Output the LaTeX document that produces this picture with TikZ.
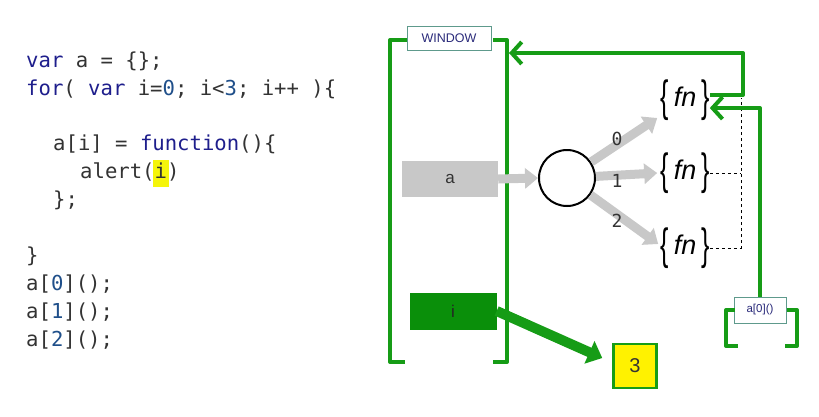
\documentclass[tikz,border=0pt]{standalone}
\usepackage{fontspec}
\usepackage{graphicx}
\setmainfont{Liberation Sans}
\newfontfamily\codefont{DejaVu Sans Mono}
\usetikzlibrary{arrows.meta}
\definecolor{grn}{HTML}{169C16}
\definecolor{boxgreen}{HTML}{0A8F0A}
\definecolor{lgray}{HTML}{C8C8C8}
\definecolor{kw}{HTML}{1E1E8C}
\definecolor{num}{HTML}{1F4F8A}
\definecolor{txt}{HTML}{333333}
\definecolor{navy}{HTML}{2A2A7A}
\definecolor{teal}{HTML}{5E9A8C}
\definecolor{hl}{HTML}{F5F50A}
\newcommand{\kwd}[1]{\textcolor{kw}{#1}}
\newcommand{\nm}[1]{\textcolor{num}{#1}}
\newcommand{\tallbrace}[1]{\raisebox{-5pt}{\scalebox{1.0}[1.75]{\fontsize{25}{30}\selectfont#1}}}
\newcommand{\fnnode}{\tallbrace{\{}\hspace{5pt}{\fontsize{27}{30}\selectfont\textit{fn}}\hspace{5pt}\tallbrace{\}}}
\tikzset{
  codeline/.style={anchor=base west, inner sep=0pt, text=txt, font=\codefont\fontsize{20.6}{26}\selectfont},
  idxlabel/.style={inner sep=0pt, text=txt, font=\codefont\fontsize{18}{20}\selectfont},
  grnline/.style={draw=grn, line width=4pt, line join=round},
  barbtip/.style={-{Straight Barb[length=10pt,width=22pt]}},
  grayarrow/.style={draw=lgray, line width=9pt, -{Triangle[width=20pt,length=13pt]}},
  grnthick/.style={draw=grn, line width=10pt, -{Triangle[width=24pt,length=14pt]}},
  labelbox/.style={draw=teal, fill=white, line width=1pt, text=navy, inner sep=0pt},
  graybox/.style={fill=lgray, minimum width=96pt, minimum height=36pt, inner sep=0pt, text=txt, font=\fontsize{17}{18}\selectfont},
  greenbox/.style={fill=boxgreen, minimum width=87pt, minimum height=37pt, inner sep=0pt, text=txt!70!black, font=\fontsize{17}{18}\selectfont},
  valbox/.style={fill=yellow, draw=grn, line width=2.5pt, minimum width=43pt, minimum height=44pt, inner sep=0pt, text=txt, font=\fontsize{20}{22}\selectfont},
  fnbox/.style={inner sep=0pt, text=black},
  dashline/.style={draw=black, dashed, line width=1pt}
}
\begin{document}
\begin{tikzpicture}[x=1pt,y=-1pt]
\useasboundingbox (0,0) rectangle (819,416);
\fill[white] (0,0) rectangle (819,416);

% code
\setlength{\fboxsep}{2pt}
\node[codeline] (c1) at (26,67) {\kwd{var} a = \{\};};
\node[codeline] (c2) at (26,95) {\kwd{for}( \kwd{var} i=\nm{0}; i<\nm{3}; i++ )\{};
\node[codeline] (c3) at (53,150) {a[i] = \kwd{function}()\{};
\node[codeline] (c4) at (80,178) {alert(\hspace{-2pt}\colorbox{hl}{\rule[-7pt]{0pt}{23pt}i}\hspace{-2pt})};
\node[codeline] (c5) at (53,206) {\};};
\node[codeline] (c6) at (26,262) {\}};
\node[codeline] (c7) at (26,290) {a[\nm{0}]();};
\node[codeline] (c8) at (26,318) {a[\nm{1}]();};
\node[codeline] (c9) at (26,346) {a[\nm{2}]();};

% window
\draw[grnline] (407,40) -- (390,40) -- (390,362) -- (405,362);
\draw[grnline] (493,40) -- (507,40) -- (507,362) -- (493,362);
\node[labelbox, minimum width=84pt, minimum height=24pt, font=\fontsize{12.5}{14}\selectfont] (win) at (449,38) {WINDOW};

\node[graybox] (a) at (450,179) {a};
\node[greenbox] (i) at (453,311) {i};

\node[circle, draw=black, line width=2pt, minimum size=56pt, inner sep=0pt] (obj) at (567,178) {};
\draw[grayarrow] (a.east) -- (obj.west);

\node[fnbox] (f0) at (685,100) {\fnnode};
\node[fnbox] (f1) at (685,173) {\fnnode};
\node[fnbox] (f2) at (685,248) {\fnnode};

\draw[grayarrow] (obj) -- ([yshift=-18pt,xshift=-3pt]f0.west);
\draw[grayarrow] (obj) -- ([xshift=-3pt]f1.west);
\draw[grayarrow] (obj) -- ([yshift=4pt,xshift=-2pt]f2.west);
\node[idxlabel] (n0) at (617,139) {0};
\node[idxlabel] (n1) at (617,181) {1};
\node[idxlabel] (n2) at (617,221) {2};

% dashed links
\coordinate (dj) at (741,98);
\draw[dashline] (f2.east) -- (f2.east -| dj) -- (dj);
\draw[dashline] (f1.east) -- (f1.east -| dj);

% scope arrow to window
\coordinate (t1) at (743,53);
\coordinate (wr) at (509,53);
\draw[grnline, barbtip] ([yshift=5pt]f0.east) -| (t1) -- (wr);

% a[0]() call
\node[labelbox, minimum width=52pt, minimum height=26pt, font=\fontsize{11.5}{13}\selectfont] (ab) at (760,310) {a[0]()};
\draw[grnline, barbtip] (ab.north) |- ([yshift=-8pt]f0.east);
\draw[grnline] (735,310) -- (726,310) -- (726,346) -- (738,346);
\draw[grnline] (787,310) -- (797,310) -- (797,346) -- (785,346);

% value of i
\node[valbox] (three) at (635,366) {3};
\draw[grnthick] (i.east) -- ([xshift=-10pt,yshift=8pt]three.west);
\end{tikzpicture}
\end{document}
